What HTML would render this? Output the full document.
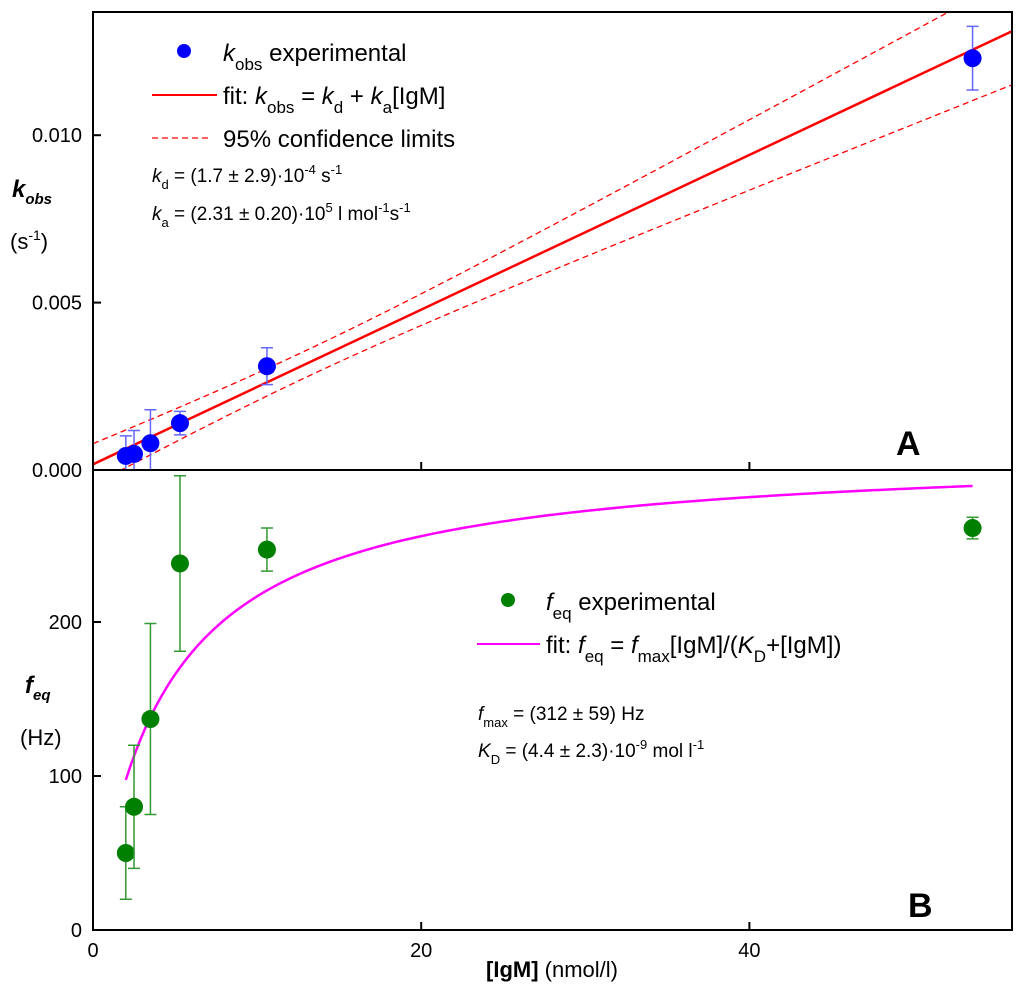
<!DOCTYPE html>
<html><head><meta charset="utf-8"><style>
body{margin:0;background:#fff}
svg{font-family:"Liberation Sans",Arial,sans-serif}
</style></head><body>
<svg id="c" width="1024" height="995" viewBox="0 0 1024 995">
<defs>
<clipPath id="ca"><rect x="93" y="12" width="919" height="458"/></clipPath>
<clipPath id="cb"><rect x="93" y="470" width="919" height="460"/></clipPath>
</defs>
<g id="gA" clip-path="url(#ca)"></g>
<g id="gB" clip-path="url(#cb)"></g>
<g id="axes"></g>
<g font-size="24">
<circle cx="184" cy="51" r="7" fill="#0000ff"/>
<text x="223" y="61"><tspan font-style="italic">k</tspan><tspan font-size="17" dy="9">obs</tspan><tspan dy="-9">  experimental</tspan></text>
<line x1="152" y1="95" x2="217" y2="95" stroke="#ff0000" stroke-width="2"/>
<text x="223" y="104">fit: <tspan font-style="italic">k</tspan><tspan font-size="17" dy="9">obs</tspan><tspan dy="-9"> = </tspan><tspan font-style="italic">k</tspan><tspan font-size="17" dy="9">d</tspan><tspan dy="-9"> + </tspan><tspan font-style="italic">k</tspan><tspan font-size="17" dy="9">a</tspan><tspan dy="-9">[IgM]</tspan></text>
<line x1="152" y1="138" x2="212" y2="138" stroke="#ff0000" stroke-width="1.3" stroke-dasharray="6,4"/>
<text x="223" y="147">95% confidence limits</text>
</g>
<g font-size="19">
<text x="152" y="182"><tspan font-style="italic">k</tspan><tspan font-size="13" dy="7">d</tspan><tspan dy="-7"> = (1.7 ± 2.9)·10</tspan><tspan font-size="13" dy="-8">-4</tspan><tspan dy="8"> s</tspan><tspan font-size="13" dy="-8">-1</tspan></text>
<text x="152" y="220"><tspan font-style="italic">k</tspan><tspan font-size="13" dy="7">a</tspan><tspan dy="-7"> = (2.31 ± 0.20)·10</tspan><tspan font-size="13" dy="-8">5</tspan><tspan dy="8"> l mol</tspan><tspan font-size="13" dy="-8">-1</tspan><tspan dy="8">s</tspan><tspan font-size="13" dy="-8">-1</tspan></text>
</g>
<g font-size="24">
<circle cx="508" cy="600" r="7" fill="#008000"/>
<text x="546" y="610"><tspan font-style="italic">f</tspan><tspan font-size="17" dy="9">eq</tspan><tspan dy="-9">  experimental</tspan></text>
<line x1="477" y1="644" x2="540" y2="644" stroke="#ff00ff" stroke-width="2"/>
<text x="546" y="653">fit: <tspan font-style="italic">f</tspan><tspan font-size="17" dy="9">eq</tspan><tspan dy="-9"> = </tspan><tspan font-style="italic">f</tspan><tspan font-size="17" dy="9">max</tspan><tspan dy="-9">[IgM]/(</tspan><tspan font-style="italic">K</tspan><tspan font-size="17" dy="9">D</tspan><tspan dy="-9">+[IgM])</tspan></text>
</g>
<g font-size="19">
<text x="478" y="720"><tspan font-style="italic">f</tspan><tspan font-size="13" dy="7">max</tspan><tspan dy="-7"> = (312 ± 59) Hz</tspan></text>
<text x="478" y="757"><tspan font-style="italic">K</tspan><tspan font-size="13" dy="7">D</tspan><tspan dy="-7"> = (4.4 ± 2.3)·10</tspan><tspan font-size="13" dy="-8">-9</tspan><tspan dy="8"> mol l</tspan><tspan font-size="13" dy="-8">-1</tspan></text>
</g>
<text x="896" y="455" font-size="34" font-weight="bold">A</text>
<text x="908" y="917" font-size="34" font-weight="bold">B</text>
<g font-size="22">
<text x="12" y="197" font-weight="bold" font-style="italic" font-size="24">k<tspan font-size="15" dy="7">obs</tspan></text>
<text x="10" y="249">(s<tspan font-size="14" dy="-9">-1</tspan><tspan dy="9">)</tspan></text>
</g>
<g font-size="22">
<text x="25" y="693" font-weight="bold" font-style="italic" font-size="24">f<tspan font-size="15" dy="7">eq</tspan></text>
<text x="20" y="745">(Hz)</text>
</g>
<text x="552" y="977" font-size="22" text-anchor="middle"><tspan font-weight="bold">[IgM]</tspan> (nmol/l)</text>
</svg>
<script>
const xA=[2.0,2.5,3.5,5.3,10.6,53.6];
const kobs=[0.00042,0.00048,0.0008,0.0014,0.0031,0.0123];
const kobsErr=[0.0006,0.0007,0.001,0.00035,0.00055,0.00095];
const xB=[2.0,2.5,3.5,5.3,10.6,53.6];
const feq=[50,80,137,238,247,261];
const feqErr=[30,40,62,57,14,7];
const xTicks=[0,20,40];
const yTicksA=[0,0.005,0.010];
const yTickLabelsA=["0.000","0.005","0.010"];
const yTicksB=[0,100,200];
const kd=1.7e-4, ka=2.31e-4, fmax=312, KD=4.4;
const X=v=>93+v*16.41;
const YA=v=>470-v*33480;
const YB=v=>930-v*1.54;
const NS="http://www.w3.org/2000/svg";
function mk(t,a,p){const e=document.createElementNS(NS,t);for(const k in a)e.setAttribute(k,a[k]);p.appendChild(e);return e;}
const gA=document.getElementById('gA'),gB=document.getElementById('gB'),ax=document.getElementById('axes');
let up=[],lo=[];
for(let x=0;x<=56;x+=0.5){const y=kd+ka*x;const h=Math.sqrt(1.6e-7+1.3e-9*(x-13)*(x-13));up.push(X(x)+','+YA(y+h));lo.push(X(x)+','+YA(y-h));}
let e=mk('polyline',{points:up.join(' '),fill:'none',stroke:'#ff0000','stroke-width':1.3,'stroke-dasharray':'6,4'},gA);

e=mk('polyline',{points:lo.join(' '),fill:'none',stroke:'#ff0000','stroke-width':1.3,'stroke-dasharray':'6,4'},gA);

e=mk('line',{x1:X(0),y1:YA(kd),x2:X(56),y2:YA(kd+ka*56),stroke:'#ff0000','stroke-width':2.5},gA);

function pts(g,xs,ys,es,Y,col,ecol,name){
 xs.forEach((x,i)=>{const cx=X(x);
  const b=mk('path',{d:`M${cx},${Y(ys[i]+es[i])}V${Y(ys[i]-es[i])}M${cx-6},${Y(ys[i]+es[i])}h12M${cx-6},${Y(ys[i]-es[i])}h12`,stroke:ecol,'stroke-width':1.5,fill:'none'},g);
  
  const c=mk('circle',{cx:cx,cy:Y(ys[i]),r:9,fill:col},g);
  
 });}
pts(gA,xA,kobs,kobsErr,YA,'#0000ff','#6666ff','kobs');
let cp=[];for(let x=2;x<=53.6;x+=0.3){cp.push(X(x)+','+YB(fmax*x/(KD+x)));}
e=mk('polyline',{points:cp.join(' '),fill:'none',stroke:'#ff00ff','stroke-width':2.5},gB);

pts(gB,xB,feq,feqErr,YB,'#008000','#339933','feq');
e=mk('rect',{x:93,y:12,width:919,height:918,fill:'none',stroke:'#000','stroke-width':2},ax);

e=mk('line',{x1:93,y1:470,x2:1012,y2:470,stroke:'#000','stroke-width':2},ax);

xTicks.forEach(v=>{
 e=mk('line',{x1:X(v),y1:930,x2:X(v),y2:922,stroke:'#000','stroke-width':2},ax);
 
 e=mk('line',{x1:X(v),y1:470,x2:X(v),y2:462,stroke:'#000','stroke-width':2},ax);
 
 const t=mk('text',{x:X(v),y:957,'font-size':20,'text-anchor':'middle'},ax);t.textContent=v;
 
});
yTicksA.forEach((v,i)=>{
 e=mk('line',{x1:93,y1:YA(v),x2:101,y2:YA(v),stroke:'#000','stroke-width':2},ax);
 
 const t=mk('text',{x:82,y:YA(v)+7,'font-size':20,'text-anchor':'end'},ax);t.textContent=yTickLabelsA[i];
 
});
yTicksB.forEach(v=>{
 e=mk('line',{x1:93,y1:YB(v),x2:101,y2:YB(v),stroke:'#000','stroke-width':2},ax);
 
 const t=mk('text',{x:82,y:YB(v)+7,'font-size':20,'text-anchor':'end'},ax);t.textContent=v;
 
});
</script>
</body></html>
